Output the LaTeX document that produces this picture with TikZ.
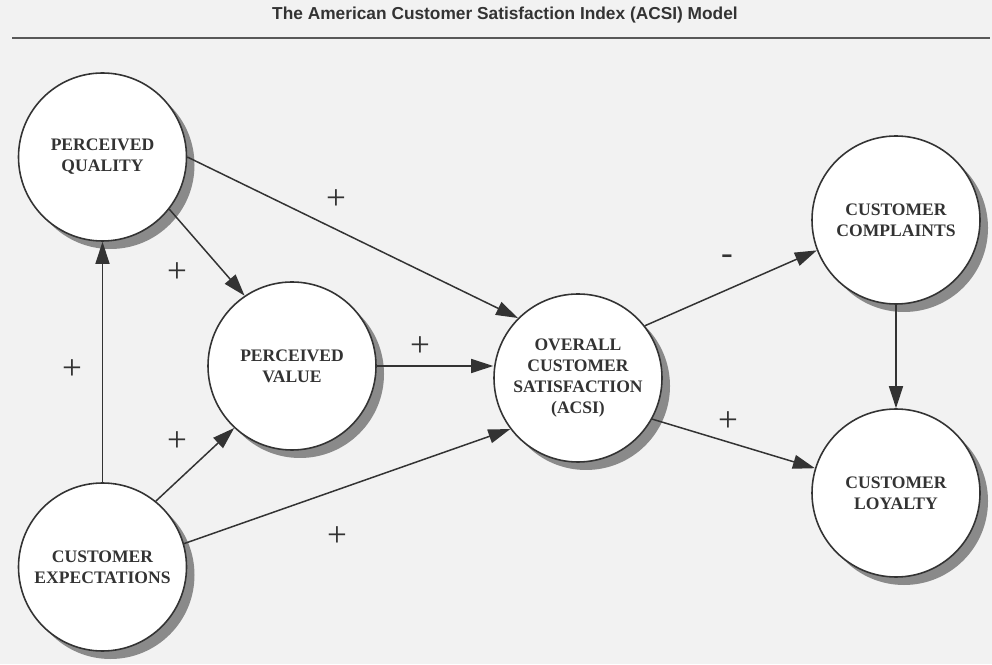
\documentclass[tikz,border=0pt]{standalone}
\usepackage{fontspec}
\setmainfont{Liberation Serif}
\setsansfont{Liberation Sans}
\usetikzlibrary{arrows.meta,shadows}
\definecolor{tinta}{HTML}{333333}
\definecolor{sombra}{HTML}{8A8A8A}
\definecolor{papel}{HTML}{F2F2F2}

\begin{document}
\begin{tikzpicture}[thick, every node/.append style={text=tinta},
  factor/.style={circle, draw=tinta, line width=0.9pt, fill=white, minimum size=3.36cm,
    inner sep=0pt, align=center, font=\fontsize{10}{12}\selectfont\bfseries,
    drop shadow={shadow xshift=0.16cm, shadow yshift=-0.16cm, fill=sombra, opacity=1}},
  flecha/.style={draw=tinta, line width=0.85pt, -{Triangle[length=0.44cm, width=0.28cm]}},
  signo/.style={font=\fontsize{20}{20}\selectfont, inner sep=0pt}]
  % fondo
  \fill[papel] (0,0) rectangle (19.84,13.28);
  \useasboundingbox (0,0) rectangle (19.84,13.28);
  % titulo
  \node[font=\sffamily\bfseries\fontsize{9.85}{12}\selectfont] (titulo) at (10.1,12.98)
    {The American Customer Satisfaction Index (ACSI) Model};
  \draw[line width=1.6pt, black!65] (0.24,12.52) -- (19.8,12.52);
  % factores
  \node[factor] (pq) at (2.05,10.14) {PERCEIVED\\QUALITY};
  \node[factor] (pv) at (5.84,5.96) {PERCEIVED\\VALUE};
  \node[factor] (ce) at (2.05,1.94) {CUSTOMER\\EXPECTATIONS};
  \node[factor] (ocs) at (11.56,5.72) {OVERALL\\CUSTOMER\\SATISFACTION\\(ACSI)};
  \node[factor] (cc) at (17.92,8.88) {CUSTOMER\\COMPLAINTS};
  \node[factor] (cl) at (17.92,3.42) {CUSTOMER\\LOYALTY};
  % relaciones
  \draw[flecha] (ce.north) -- (pq.south);
  \draw[flecha] (pq.-38) -- (pv.124);
  \draw[flecha] (pq.east) -- (ocs.135);
  \draw[flecha] (ce.51) -- (pv.227);
  \draw[flecha] (ce.16) -- (ocs.217);
  \draw[flecha] (pv.east) -- (pv.east -| ocs.west);
  \draw[flecha] (ocs.38) -- (cc.201);
  \draw[flecha] (ocs.-29) -- (cl.163);
  \draw[flecha] (cc.south) -- (cl.north);
  % signos
  \node[signo] (s1) at (1.44,5.88) {+};
  \node[signo] (s2) at (3.54,7.82) {+};
  \node[signo] (s3) at (3.54,4.44) {+};
  \node[signo] (s4) at (6.72,9.28) {+};
  \node[signo] (s5) at (6.74,2.54) {+};
  \node[signo] (s6) at (8.40,6.34) {+};
  \node[signo] (s7) at (14.54,8.08) {-};
  \node[signo] (s8) at (14.56,4.84) {+};
\end{tikzpicture}
\end{document}
